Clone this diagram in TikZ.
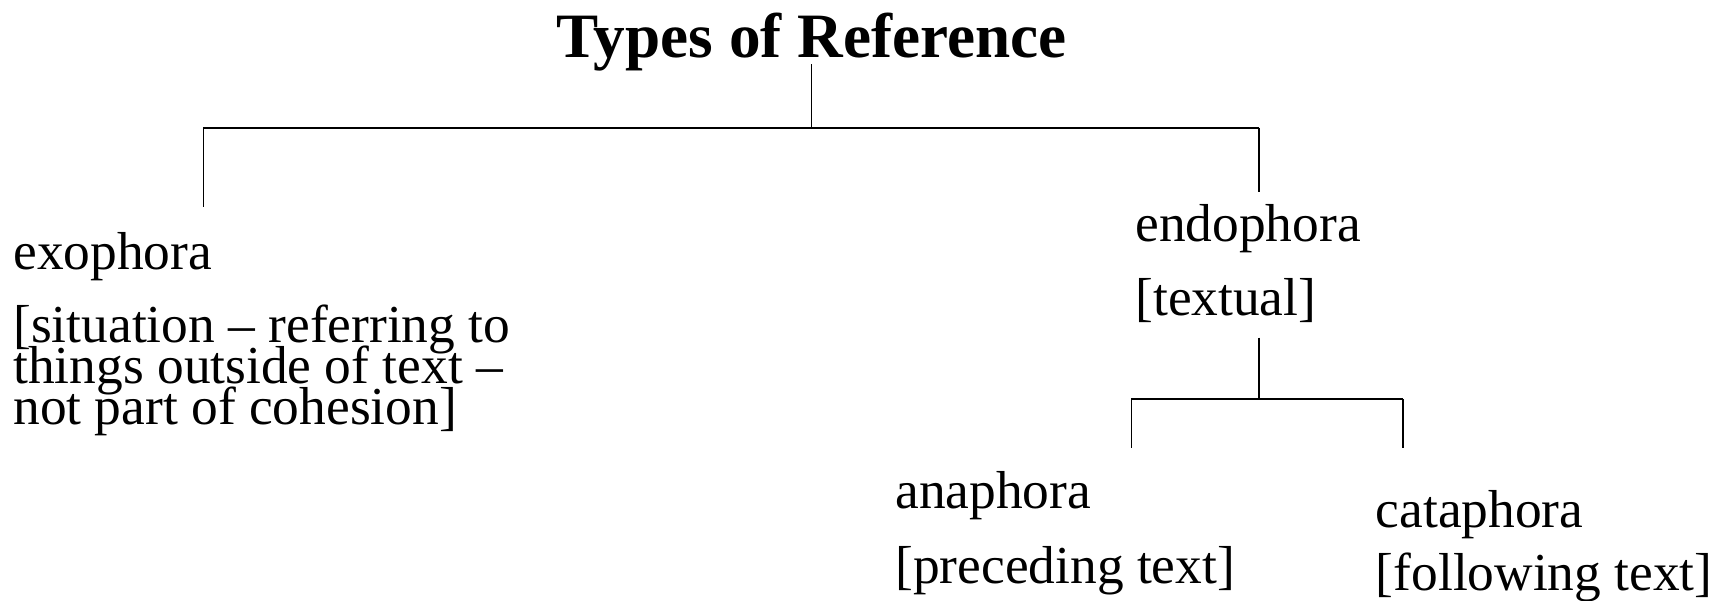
\documentclass[tikz,border=0pt]{standalone}
\usepackage{fontspec}
\setmainfont{Liberation Serif}
\setlength{\lineskiplimit}{-100pt}
\tikzset{
  lbl/.style={anchor=base west, inner sep=0pt, font=\fontsize{26.7}{20.5}\selectfont},
  stem/.style={line width=0.6pt},
  bar/.style={line width=1pt}
}
\begin{document}
\begin{tikzpicture}[x=0.5pt,y=-0.5pt]
  \useasboundingbox (0,0) rectangle (1724,600);
  % title and labels
  \node[anchor=base, inner sep=0pt, font=\fontsize{31.6}{36}\selectfont\bfseries] (title) at (811.5,57) {Types of Reference};
  \node[lbl] (exo) at (13,269) {exophora};
  \node[lbl, align=left] (exotxt) at (13,424) {[situation – referring to\\things outside of text –\\not part of cohesion]};
  \node[lbl] (endo) at (1135,241) {endophora};
  \node[lbl] (endotxt) at (1135,315) {[textual]};
  \node[lbl] (ana) at (895,508) {anaphora};
  \node[lbl] (anatxt) at (895,583) {[preceding text]};
  \node[lbl] (cata) at (1375.5,527) {cataphora};
  \node[lbl] (catatxt) at (1375.5,590) {[following text]};
  % joints of the tree
  \coordinate (t0) at (811.5,64);
  \coordinate (t1) at (811.5,127.5);
  \coordinate (hl) at (203.4,127.5);
  \coordinate (hr) at (1259,127.5);
  \coordinate (exoend) at (203.4,206.7);
  \coordinate (endoend) at (1259,192.4);
  \coordinate (s0) at (1259,337.5);
  \coordinate (s1) at (1259,399);
  \coordinate (bl) at (1131.4,399);
  \coordinate (br) at (1403,399);
  \coordinate (anaend) at (1131.4,447.5);
  \coordinate (cataend) at (1403,447.5);
  % lines
  \draw[stem] (t0) -- (t1);
  \draw[bar] (hl) -- (hr);
  \draw[stem] (hl) -- (exoend);
  \draw[stem] (hr) -- (endoend);
  \draw[stem] (s0) -- (s1);
  \draw[bar] (bl) -- (br);
  \draw[stem] (bl) -- (anaend);
  \draw[stem] (br) -- (cataend);
\end{tikzpicture}
\end{document}
